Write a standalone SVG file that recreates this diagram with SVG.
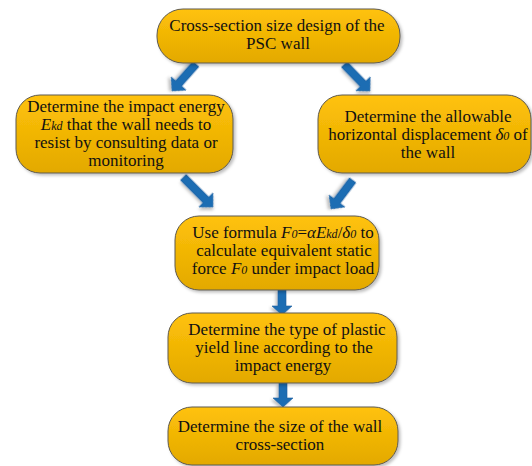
<svg xmlns="http://www.w3.org/2000/svg" width="532" height="466" viewBox="0 0 532 466">
<defs>
<linearGradient id="g" x1="0" y1="0" x2="0" y2="1">
<stop offset="0" stop-color="#FFC20A"/>
<stop offset="1" stop-color="#E3A900"/>
</linearGradient>
<filter id="sh" x="-10%" y="-10%" width="125%" height="130%">
<feDropShadow dx="2" dy="2" stdDeviation="1.5" flood-color="#000" flood-opacity="0.25"/>
</filter>
</defs>
<style>
.box{fill:url(#g);stroke:#5E5A50;stroke-width:1;filter:url(#sh)}
text{font-size:17px;fill:#111;text-anchor:middle}
.i{font-style:italic}
.s{font-style:italic;font-size:12px}
.a{fill:#1F6DB3;stroke:#185E9E;stroke-width:0.6;filter:url(#sh)}
</style>
<g id="connectors">
<path class="a" transform="translate(172,91) rotate(131.6)" d="M0,0 L-10,10 L-10,4 L-36,4 L-36,-4 L-10,-4 L-10,-10 Z"/>
<path class="a" transform="translate(370,91) rotate(46)" d="M0,0 L-10,10 L-10,4 L-37,4 L-37,-4 L-10,-4 L-10,-10 Z"/>
<path class="a" transform="translate(213,207) rotate(45)" d="M0,0 L-10,10 L-10,4 L-42,4 L-42,-4 L-10,-4 L-10,-10 Z"/>
<path class="a" transform="translate(331,209) rotate(127)" d="M0,0 L-10,10 L-10,4 L-36,4 L-36,-4 L-10,-4 L-10,-10 Z"/>
<path class="a" transform="translate(282,315) rotate(90)" d="M0,0 L-9,10 L-9,4 L-25,4 L-25,-4 L-9,-4 L-9,-10 Z"/>
<path class="a" transform="translate(283,407) rotate(90)" d="M0,0 L-9,10 L-9,4 L-24,4 L-24,-4 L-9,-4 L-9,-10 Z"/>
</g>
<g font-family="Liberation Serif, DejaVu Serif, serif">
<g id="n1">
<rect class="box" x="157" y="9" width="243" height="54" rx="26"/>
<text x="277" y="31">Cross-section size design of the</text>
<text x="278" y="49">PSC wall</text>
</g>
<g id="n2">
<rect class="box" x="16" y="95" width="217" height="78" rx="24"/>
<text x="126" y="112">Determine the impact energy</text>
<text x="126" y="130"><tspan class="i">E</tspan><tspan class="s">kd</tspan> that the wall needs to</text>
<text x="126" y="148">resist by consulting data or</text>
<text x="126" y="166">monitoring</text>
</g>
<g id="n3">
<rect class="box" x="318" y="95" width="213" height="78" rx="24"/>
<text x="428" y="122">Determine the allowable</text>
<text x="428" y="140">horizontal displacement <tspan class="i">δ</tspan><tspan class="s">0</tspan> of</text>
<text x="428" y="158">the wall</text>
</g>
<g id="n4">
<rect class="box" x="175" y="216" width="204" height="74" rx="24"/>
<text x="283" y="238">Use formula <tspan class="i">F</tspan><tspan class="s">0</tspan>=<tspan class="i">αE</tspan><tspan class="s">kd</tspan>/<tspan class="i">δ</tspan><tspan class="s">0</tspan>  to</text>
<text x="284" y="256">calculate equivalent static</text>
<text x="283" y="274">force <tspan class="i">F</tspan><tspan class="s">0</tspan> under impact load</text>
</g>
<g id="n5">
<rect class="box" x="168" y="313" width="229" height="70" rx="24"/>
<text x="287" y="335">Determine the type of plastic</text>
<text x="284" y="353">yield line according to the</text>
<text x="283" y="371">impact energy</text>
</g>
<g id="n6">
<rect class="box" x="168" y="407" width="230" height="58" rx="24"/>
<text x="280" y="432">Determine the size of the wall</text>
<text x="280" y="450">cross-section</text>
</g>
</g>
</svg>
